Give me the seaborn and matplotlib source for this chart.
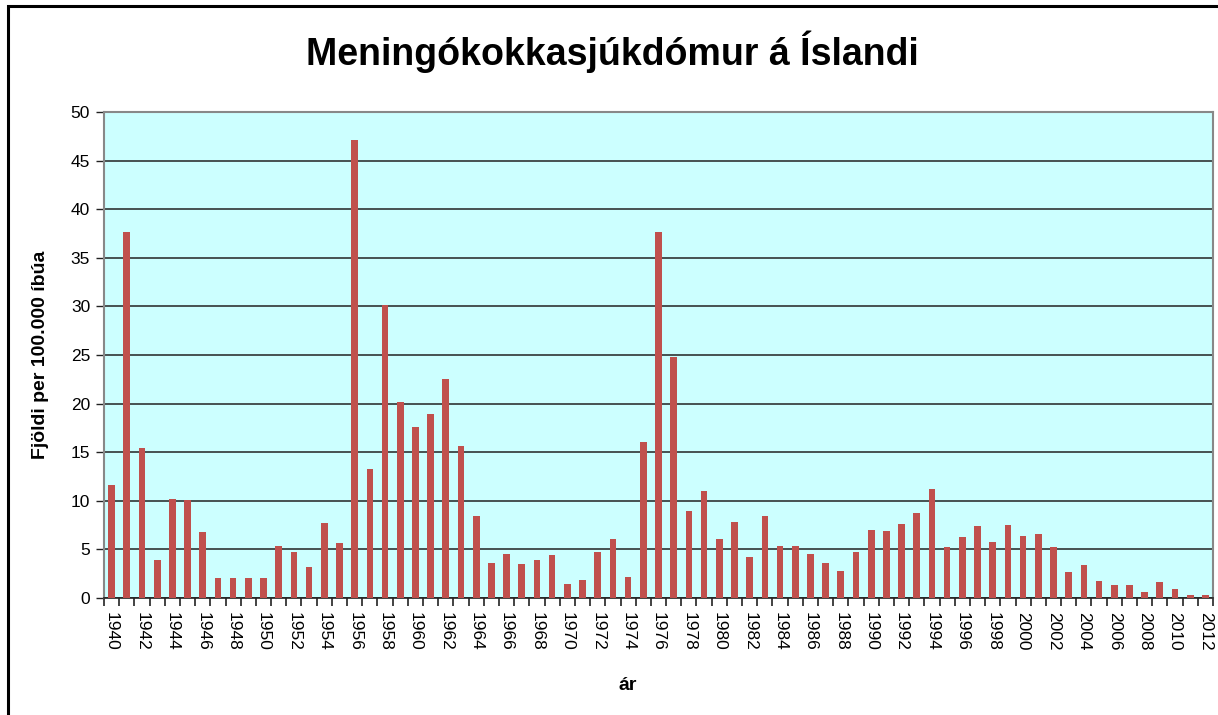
import numpy as np
import pandas as pd
import matplotlib
matplotlib.use('Agg')
import matplotlib.pyplot as plt
from matplotlib.patches import Rectangle
import seaborn as sns

# Datos (tilfelli per 100.000 ibua)
ar = list(range(1940, 2013))
fjoldi = [11.6, 37.7, 15.4, 3.9, 10.2, 10.1, 6.8, 2.1, 2.1, 2.1,
          2.1, 5.4, 4.7, 3.2, 7.7, 5.7, 47.1, 13.3, 30.1, 20.2,
          17.6, 18.9, 22.5, 15.6, 8.4, 3.6, 4.5, 3.5, 3.9, 4.4,
          1.4, 1.9, 4.7, 6.1, 2.2, 16.0, 37.7, 24.8, 8.9, 11.0,
          6.1, 7.8, 4.2, 8.4, 5.4, 5.3, 4.5, 3.6, 2.8, 4.7,
          7.0, 6.9, 7.6, 8.7, 11.2, 5.2, 6.3, 7.4, 5.8, 7.5,
          6.4, 6.6, 5.2, 2.7, 3.4, 1.7, 1.3, 1.3, 0.6, 1.6,
          0.9, 0.3, 0.3]

titill = 'Meningókokkasjúkdómur á Íslandi'
y_titill = 'Fjöldi per 100.000 íbúa'
x_titill = 'ár'

df = pd.DataFrame({'ar': [str(a) for a in ar], 'fjoldi': fjoldi})

sns.set_theme(style='white')
plt.rcParams['font.family'] = ['Liberation Sans', 'DejaVu Sans']
plt.rcParams['text.color'] = 'black'
plt.rcParams['axes.labelcolor'] = 'black'
plt.rcParams['xtick.color'] = 'black'
plt.rcParams['ytick.color'] = 'black'

fig = plt.figure(figsize=(12.18, 7.15), dpi=100)
ax = fig.add_axes([104/1218, 1 - 598/715, 1109/1218, 486/715])
ax.set_facecolor('#CCFFFF')

sns.barplot(data=df, x='ar', y='fjoldi', color='#C0504D', width=0.44,
            saturation=1, errorbar=None, linewidth=0, edgecolor='none',
            ax=ax, zorder=3)

ax.set_ylim(0, 50)
ax.set_yticks(range(0, 51, 5))
ax.set_xlim(-0.5, len(ar) - 0.5)
ax.yaxis.grid(True, color='#222222', linewidth=1.1, zorder=0)
ax.xaxis.grid(False, which='both')
ax.set_axisbelow(True)

# Rakir a milli flokka, merkingar a annad hvert ar
pos = np.arange(len(ar))
ax.set_xticks(np.append(pos - 0.5, len(ar) - 0.5))
ax.set_xticklabels([])
ax.set_xticks(pos, [str(a) if a % 2 == 0 else '' for a in ar], minor=True)
ax.tick_params(axis='x', which='major', length=6, width=1.2, color='#222222',
               direction='out', bottom=True, top=False)
ax.tick_params(axis='x', which='minor', length=0, pad=10, labelsize=12.5,
               labelrotation=270, bottom=True, top=False)
ax.tick_params(axis='y', length=6, width=1, color='#222222', direction='out',
               left=True, labelsize=12.5, pad=4)

for s in ['top', 'right', 'left']:
    ax.spines[s].set_color('#888888')
    ax.spines[s].set_linewidth(1.5)
ax.spines['bottom'].set_color('#222222')
ax.spines['bottom'].set_linewidth(1.2)

ax.set_ylabel(y_titill, fontsize=14, fontweight='bold')
ax.yaxis.set_label_coords(-0.0496, 0.5)
ax.set_xlabel(x_titill, fontsize=14, fontweight='bold')
ax.xaxis.set_label_coords(0.4725, -0.181)
ax.xaxis.label.set_va('center')

fig.text(612/1218, 1 - 52/715, titill, ha='center', va='center',
         fontsize=27, fontweight='bold')

# Rammi um myndina (vinstri og efri brun)
fig.patches.append(Rectangle((8/1218, -0.1), 1.2, 1.1 - 6/715,
                             transform=fig.transFigure, fill=False,
                             edgecolor='black', linewidth=2.2))

fig.savefig('out.png', dpi=100)
